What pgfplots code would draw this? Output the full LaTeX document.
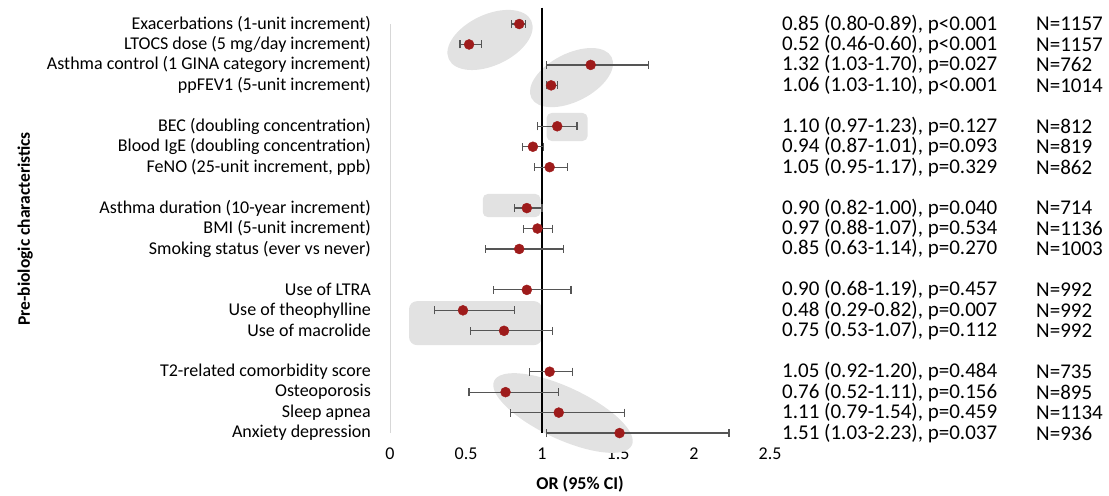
\documentclass[border=0pt]{standalone}
\usepackage{pgfplots}
\pgfplotsset{compat=1.18}
\usepackage{pgfplotstable}
\usepackage{fontspec}
\setmainfont{Carlito}
\usetikzlibrary{shapes.geometric}
\definecolor{dotred}{RGB}{158,27,27}
\definecolor{barg}{RGB}{85,85,85}
\definecolor{hlgray}{RGB}{226,226,226}
\definecolor{axg}{RGB}{215,215,215}

\pgfplotstableread{
pos or lo hi
0 0.85 0.80 0.89
1 0.52 0.46 0.60
2 1.32 1.03 1.70
3 1.06 1.03 1.10
5 1.10 0.97 1.23
6 0.94 0.87 1.01
7 1.05 0.95 1.17
9 0.90 0.82 1.00
10 0.97 0.88 1.07
11 0.85 0.63 1.14
13 0.90 0.68 1.19
14 0.48 0.29 0.82
15 0.75 0.53 1.07
17 1.05 0.92 1.20
18 0.76 0.52 1.11
19 1.11 0.79 1.54
20 1.51 1.03 2.23
}\data

\newcommand{\rt}{\fontsize{21}{23}\selectfont}

\begin{document}
\begin{tikzpicture}
\begin{axis}[
  scale only axis, width=380pt, height=425.4pt,
  xmin=0, xmax=2.5, ymin=-0.8, ymax=20, y dir=reverse,
  clip=false,
  axis line style={draw=none},
  major tick length=0pt,
  xtick={0,0.5,1,1.5,2,2.5},
  xticklabels={0,0.5,1,1.5,2,2.5},
  ytick={0,1,2,3,5,6,7,9,10,11,13,14,15,17,18,19,20},
  yticklabels={
    {Exacerbations (1-unit increment)},
    {LTOCS dose (5 mg/day increment)},
    {Asthma control (1 GINA category increment)},
    {ppFEV1 (5-unit increment)},
    {BEC (doubling concentration)},
    {Blood IgE (doubling concentration)},
    {FeNO (25-unit increment, ppb)},
    {Asthma duration (10-year increment)},
    {BMI (5-unit increment)},
    {Smoking status (ever vs never)},
    {Use of LTRA},
    {Use of theophylline},
    {Use of macrolide},
    {T2-related comorbidity score},
    {Osteoporosis},
    {Sleep apnea},
    {Anxiety depression}},
  yticklabel style={font=\fontsize{18}{20}\selectfont, inner sep=0pt, xshift=-19pt, anchor=east},
  xticklabel style={font=\fontsize{18}{20}\selectfont, inner sep=0pt, anchor=north, yshift=-15pt},
]
% bounding box
\path (axis cs:-2.566,-1.174) rectangle (axis cs:4.730,23.03);
% highlight shapes
\node[ellipse, fill=hlgray, minimum width=91pt, minimum height=51pt, inner sep=0pt, rotate=25] at (axis cs:0.658,0.78) {};
\node[ellipse, fill=hlgray, minimum width=90pt, minimum height=48pt, inner sep=0pt, rotate=27] at (axis cs:1.194,2.62) {};
\node[ellipse, fill=hlgray, minimum width=152pt, minimum height=52pt, inner sep=0pt, rotate=-25] at (axis cs:1.138,19.02) {};
\fill[hlgray, rounded corners=5pt] (axis cs:1.03,4.35) rectangle (axis cs:1.30,5.72);
\fill[hlgray, rounded corners=5pt] (axis cs:0.61,8.31) rectangle (axis cs:0.99,9.44);
\fill[hlgray, rounded corners=8pt] (axis cs:0.125,13.55) rectangle (axis cs:1.0,15.7);
% axis lines
\draw[axg, line width=1pt] (axis cs:0,0) -- (axis cs:0,20);
\draw[black, line width=1.3pt] (axis cs:1,-0.8) -- (axis cs:1,20);
% data
\addplot[only marks, mark=*, color=dotred, mark size=5pt,
  error bars/.cd, x dir=both, x explicit,
  error mark=-, error mark options={rotate=90, mark size=4pt, line width=1.2pt, barg},
  error bar style={barg, line width=1.2pt}]
  table[x=or, y=pos, x error plus expr=\thisrow{hi}-\thisrow{or}, x error minus expr=\thisrow{or}-\thisrow{lo}] \data;
% labels
\node[font=\bfseries\fontsize{18}{20}\selectfont] at (axis cs:1.25,22.49) {OR (95\% CI)};
\node[rotate=90, font=\bfseries\fontsize{17.5}{20}\selectfont] at (axis cs:-2.40,10.02) {Pre-biologic characteristics};
% right text
\node[anchor=west, inner sep=0pt, font=\rt] at (axis cs:2.579,0) {0.85 (0.80-0.89), p<0.001};
\node[anchor=west, inner sep=0pt, font=\rt] at (axis cs:2.579,1) {0.52 (0.46-0.60), p<0.001};
\node[anchor=west, inner sep=0pt, font=\rt] at (axis cs:2.579,2) {1.32 (1.03-1.70), p=0.027};
\node[anchor=west, inner sep=0pt, font=\rt] at (axis cs:2.579,3) {1.06 (1.03-1.10), p<0.001};
\node[anchor=west, inner sep=0pt, font=\rt] at (axis cs:2.579,5) {1.10 (0.97-1.23), p=0.127};
\node[anchor=west, inner sep=0pt, font=\rt] at (axis cs:2.579,6) {0.94 (0.87-1.01), p=0.093};
\node[anchor=west, inner sep=0pt, font=\rt] at (axis cs:2.579,7) {1.05 (0.95-1.17), p=0.329};
\node[anchor=west, inner sep=0pt, font=\rt] at (axis cs:2.579,9) {0.90 (0.82-1.00), p=0.040};
\node[anchor=west, inner sep=0pt, font=\rt] at (axis cs:2.579,10) {0.97 (0.88-1.07), p=0.534};
\node[anchor=west, inner sep=0pt, font=\rt] at (axis cs:2.579,11) {0.85 (0.63-1.14), p=0.270};
\node[anchor=west, inner sep=0pt, font=\rt] at (axis cs:2.579,13) {0.90 (0.68-1.19), p=0.457};
\node[anchor=west, inner sep=0pt, font=\rt] at (axis cs:2.579,14) {0.48 (0.29-0.82), p=0.007};
\node[anchor=west, inner sep=0pt, font=\rt] at (axis cs:2.579,15) {0.75 (0.53-1.07), p=0.112};
\node[anchor=west, inner sep=0pt, font=\rt] at (axis cs:2.579,17) {1.05 (0.92-1.20), p=0.484};
\node[anchor=west, inner sep=0pt, font=\rt] at (axis cs:2.579,18) {0.76 (0.52-1.11), p=0.156};
\node[anchor=west, inner sep=0pt, font=\rt] at (axis cs:2.579,19) {1.11 (0.79-1.54), p=0.459};
\node[anchor=west, inner sep=0pt, font=\rt] at (axis cs:2.579,20) {1.51 (1.03-2.23), p=0.037};
\node[anchor=west, inner sep=0pt, font=\rt] at (axis cs:4.25,0) {N=1157};
\node[anchor=west, inner sep=0pt, font=\rt] at (axis cs:4.25,1) {N=1157};
\node[anchor=west, inner sep=0pt, font=\rt] at (axis cs:4.25,2) {N=762};
\node[anchor=west, inner sep=0pt, font=\rt] at (axis cs:4.25,3) {N=1014};
\node[anchor=west, inner sep=0pt, font=\rt] at (axis cs:4.25,5) {N=812};
\node[anchor=west, inner sep=0pt, font=\rt] at (axis cs:4.25,6) {N=819};
\node[anchor=west, inner sep=0pt, font=\rt] at (axis cs:4.25,7) {N=862};
\node[anchor=west, inner sep=0pt, font=\rt] at (axis cs:4.25,9) {N=714};
\node[anchor=west, inner sep=0pt, font=\rt] at (axis cs:4.25,10) {N=1136};
\node[anchor=west, inner sep=0pt, font=\rt] at (axis cs:4.25,11) {N=1003};
\node[anchor=west, inner sep=0pt, font=\rt] at (axis cs:4.25,13) {N=992};
\node[anchor=west, inner sep=0pt, font=\rt] at (axis cs:4.25,14) {N=992};
\node[anchor=west, inner sep=0pt, font=\rt] at (axis cs:4.25,15) {N=992};
\node[anchor=west, inner sep=0pt, font=\rt] at (axis cs:4.25,17) {N=735};
\node[anchor=west, inner sep=0pt, font=\rt] at (axis cs:4.25,18) {N=895};
\node[anchor=west, inner sep=0pt, font=\rt] at (axis cs:4.25,19) {N=1134};
\node[anchor=west, inner sep=0pt, font=\rt] at (axis cs:4.25,20) {N=936};
\end{axis}
\end{tikzpicture}
\end{document}
